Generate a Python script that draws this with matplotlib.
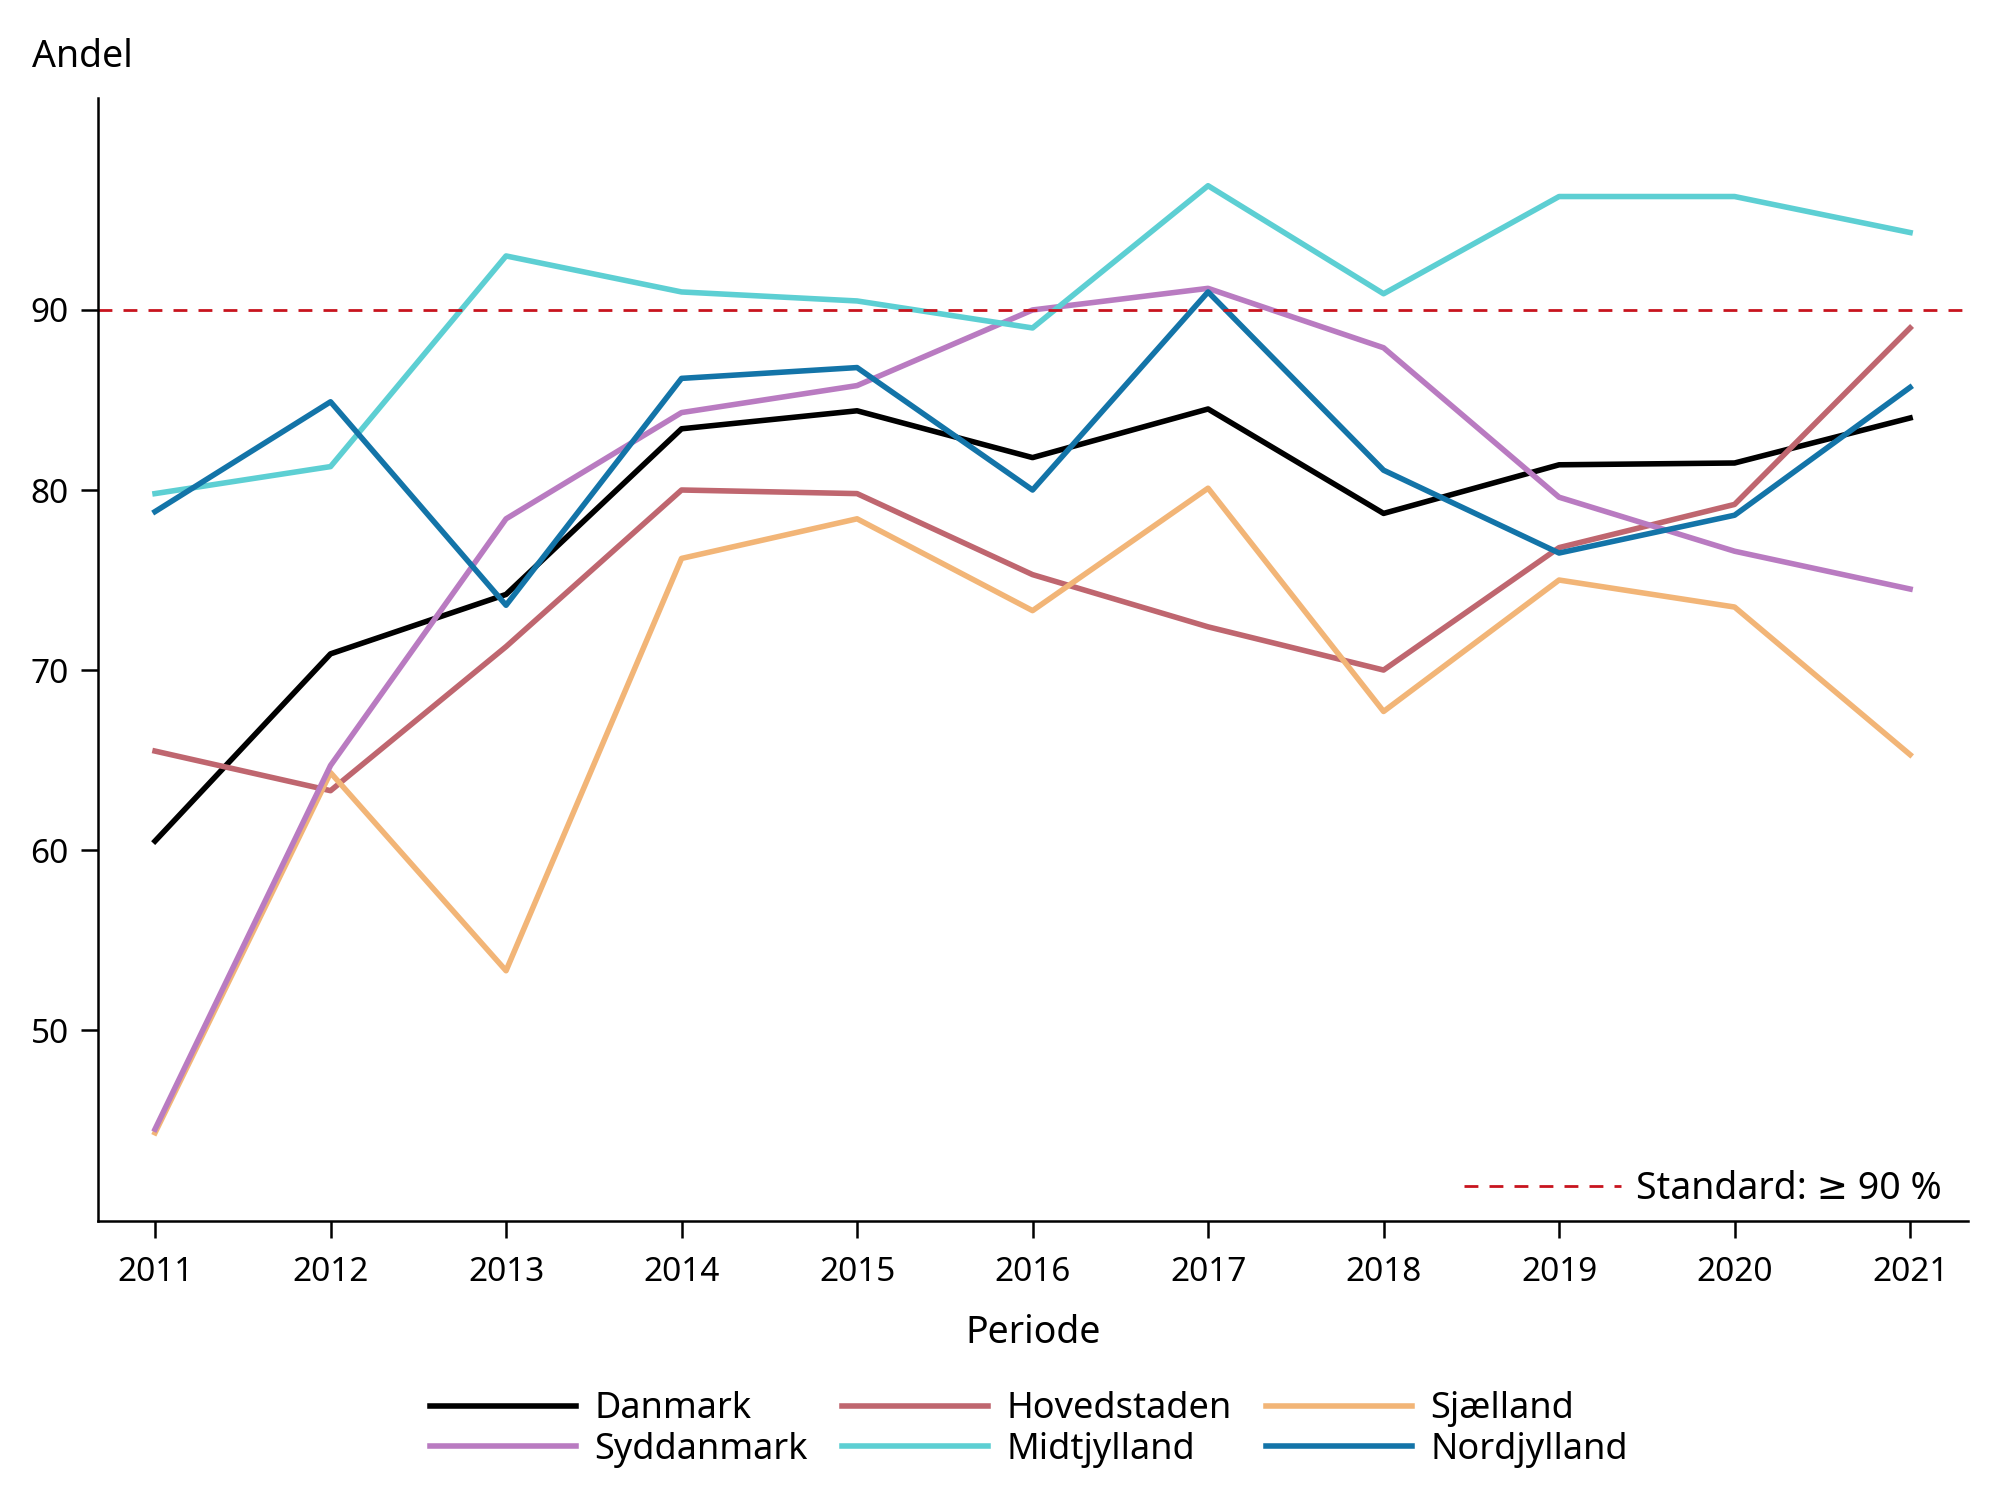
import matplotlib
matplotlib.use('Agg')
import matplotlib.pyplot as plt
from matplotlib.lines import Line2D

plt.rcParams['font.family'] = ['Noto Sans', 'DejaVu Sans']

# data
years = [2011, 2012, 2013, 2014, 2015, 2016, 2017, 2018, 2019, 2020, 2021]
danmark = [60.5, 70.9, 74.2, 83.4, 84.4, 81.8, 84.5, 78.7, 81.4, 81.5, 84.0]
hovedstaden = [65.5, 63.3, 71.3, 80.0, 79.8, 75.3, 72.4, 70.0, 76.8, 79.2, 89.0]
sjaelland = [44.3, 64.3, 53.3, 76.2, 78.4, 73.3, 80.1, 67.7, 75.0, 73.5, 65.3]
syddanmark = [44.5, 64.7, 78.4, 84.3, 85.8, 90.0, 91.2, 87.9, 79.6, 76.6, 74.5]
midtjylland = [79.8, 81.3, 93.0, 91.0, 90.5, 89.0, 96.9, 90.9, 96.3, 96.3, 94.3]
nordjylland = [78.8, 84.9, 73.6, 86.2, 86.8, 80.0, 91.0, 81.1, 76.5, 78.6, 85.7]
standard = 90

series = [
    ('Danmark', danmark, '#000000'),
    ('Hovedstaden', hovedstaden, '#bf666f'),
    ('Sjælland', sjaelland, '#f2b577'),
    ('Syddanmark', syddanmark, '#b97bc1'),
    ('Midtjylland', midtjylland, '#5dcfd3'),
    ('Nordjylland', nordjylland, '#1374a8'),
]
red = '#c8141e'

fig = plt.figure(figsize=(20, 15), dpi=100)
ax = fig.add_axes([0.049, 0.186, 0.935, 0.749])

handles = {}
for name, vals, col in series:
    ln, = ax.plot(years, vals, color=col, lw=4.0, label=name)
    handles[name] = ln

# standard line
ax.axhline(standard, color=red, lw=2.0, dashes=(5, 4))

ax.set_xlim(2010.675, 2021.33)
ax.set_ylim(39.4, 101.8)
ax.set_xticks(years)
ax.set_yticks([50, 60, 70, 80, 90])
ax.tick_params(labelsize=24, length=12, width=1.8, pad=9)
ax.tick_params(axis='x', pad=13)
for s in ['top', 'right']:
    ax.spines[s].set_visible(False)
for s in ['left', 'bottom']:
    ax.spines[s].set_linewidth(1.8)

ax.set_xlabel('Periode', fontsize=27, labelpad=18)
fig.text(0.016, 0.962, 'Andel', fontsize=27, ha='left', va='center')

# standard legend inside axes
ax.legend([Line2D([], [], color=red, lw=2.0, dashes=(5, 4))],
          ['Standard: \u2265 90 %'], loc='lower right', frameon=False,
          fontsize=27, handlelength=4.2, handletextpad=0.4,
          borderaxespad=0, bbox_to_anchor=(0.994, -0.002))

# region legend below, filled row-wise
order = ['Danmark', 'Syddanmark', 'Hovedstaden', 'Midtjylland', 'Sjælland', 'Nordjylland']
fig.legend([handles[n] for n in order], order, ncol=3, loc='center',
           bbox_to_anchor=(0.5145, 0.047), frameon=False, fontsize=26,
           handlelength=4.05, handletextpad=0.5, columnspacing=0.95,
           labelspacing=0.12)

fig.savefig('out.png', dpi=100)
